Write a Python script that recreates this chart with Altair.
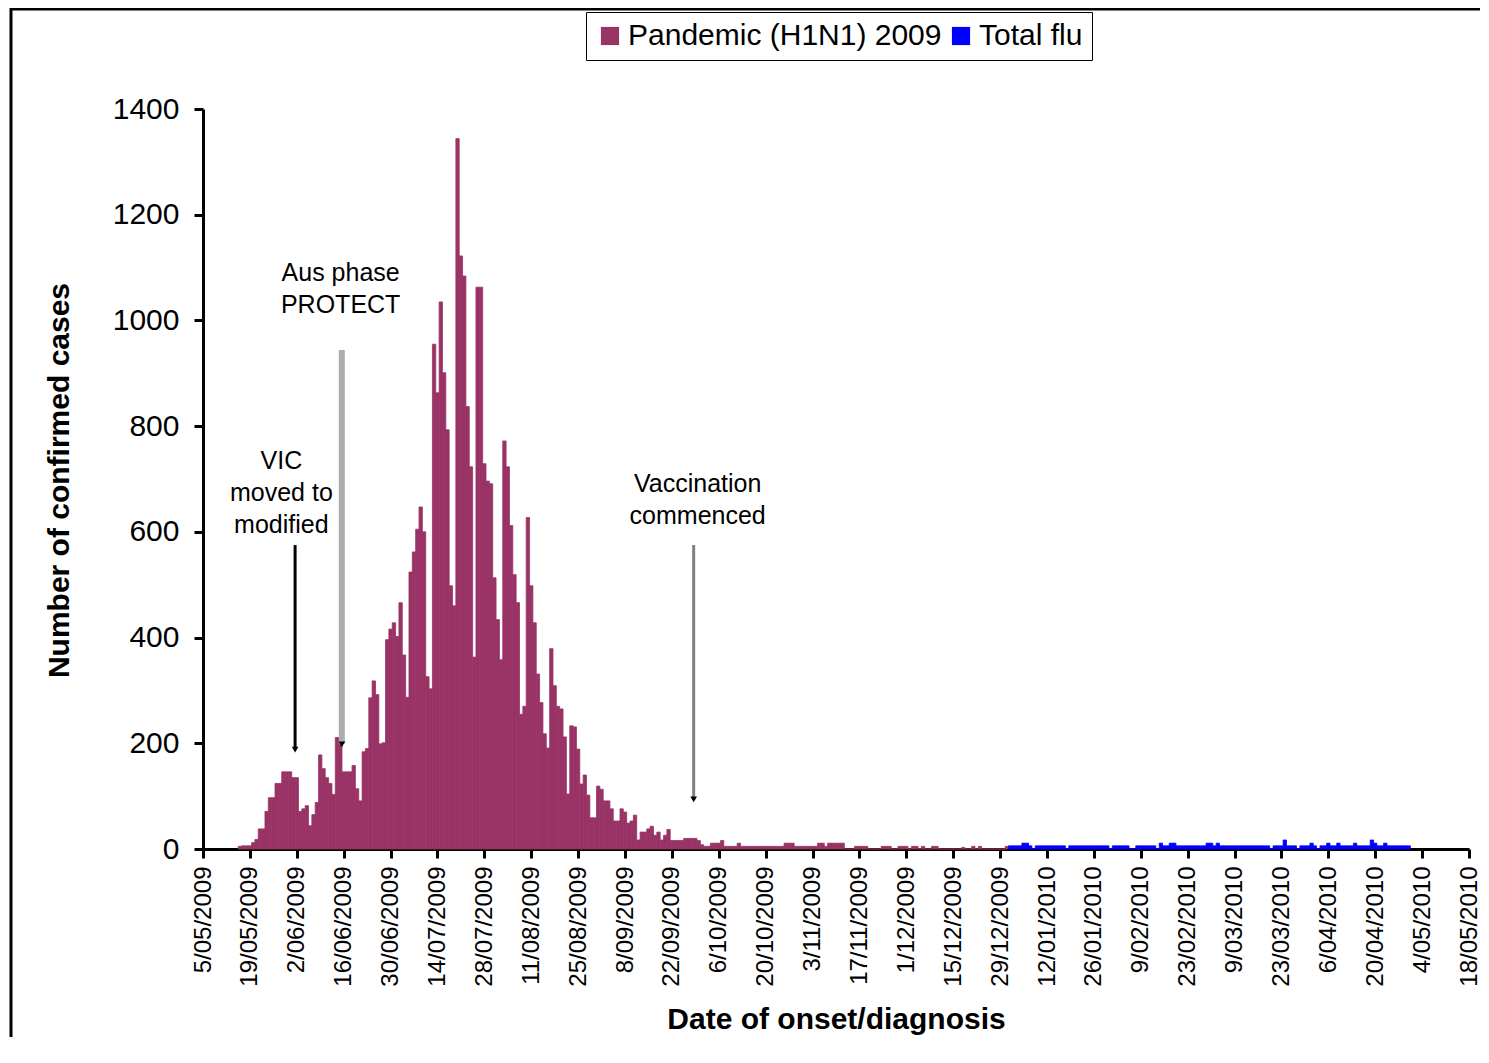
import json
import altair as alt
import pandas as pd

# ---------------- data ----------------
start_date = "2009-05-05"
axis_end_day = 378
tick_step = 14
tick_labels = [
    "5/05/2009", "19/05/2009", "2/06/2009", "16/06/2009", "30/06/2009", "14/07/2009",
    "28/07/2009", "11/08/2009", "25/08/2009", "8/09/2009", "22/09/2009", "6/10/2009",
    "20/10/2009", "3/11/2009", "17/11/2009", "1/12/2009", "15/12/2009", "29/12/2009",
    "12/01/2010", "26/01/2010", "9/02/2010", "23/02/2010", "9/03/2010", "23/03/2010",
    "6/04/2010", "20/04/2010", "4/05/2010", "18/05/2010",
]
series_names = ["Pandemic (H1N1) 2009", "Total flu"]
series_colors = ["#993366", "#0000FF"]

pandemic_first_date = "2009-05-16"
pandemic_counts = [
    5, 6, 6, 6, 12, 18, 38, 38, 71, 97,
    97, 124, 124, 146, 146, 146, 135, 135, 71, 76,
    82, 44, 65, 88, 178, 152, 135, 124, 103, 211,
    211, 146, 146, 146, 158, 114, 91, 184, 190, 286,
    318, 292, 199, 201, 396, 416, 428, 402, 466, 367,
    287, 524, 562, 605, 647, 600, 326, 303, 955, 863,
    1035, 901, 793, 498, 460, 1344, 1122, 1084, 837, 723,
    363, 1063, 1063, 729, 696, 691, 513, 434, 358, 772,
    723, 612, 519, 466, 255, 270, 627, 498, 428, 331,
    277, 218, 191, 379, 309, 270, 265, 212, 104, 233,
    231, 189, 123, 140, 102, 59, 59, 119, 113, 91,
    91, 76, 53, 53, 76, 70, 49, 53, 64, 17,
    32, 32, 38, 43, 26, 32, 17, 26, 37, 16,
    16, 16, 16, 20, 20, 20, 20, 16, 8, 5,
    5, 11, 11, 11, 16, 5, 5, 5, 5, 11,
    5, 5, 5, 5, 5, 5, 5, 5, 5, 5,
    5, 5, 5, 11, 11, 11, 5, 5, 5, 5,
    5, 5, 5, 11, 11, 5, 11, 11, 11, 11,
    11, 0, 0, 0, 5, 5, 5, 5, 0, 0,
    0, 0, 5, 5, 5, 0, 0, 5, 5, 5,
    0, 5, 5, 0, 5, 0, 0, 5, 5, 0,
    0, 0, 0, 0, 0, 0, 3, 0, 0, 5,
    0, 5, 0, 0, 0, 0, 0, 0, 0, 5,
]

flu_first_date = "2010-01-01"
flu_counts = [
    6, 6, 6, 6, 11, 11, 6, 0, 6, 6,
    6, 6, 6, 6, 6, 6, 6, 0, 6, 6,
    6, 6, 6, 6, 6, 6, 6, 6, 6, 6,
    0, 6, 6, 6, 6, 6, 0, 0, 6, 6,
    6, 6, 6, 6, 0, 11, 6, 6, 11, 11,
    6, 6, 6, 6, 6, 6, 6, 6, 6, 11,
    11, 6, 11, 6, 6, 6, 6, 6, 6, 6,
    6, 6, 6, 6, 6, 6, 6, 6, 0, 6,
    6, 6, 17, 6, 6, 6, 0, 6, 6, 6,
    11, 6, 0, 6, 6, 11, 6, 6, 11, 6,
    6, 6, 6, 11, 6, 6, 6, 6, 17, 11,
    6, 6, 11, 6, 6, 6, 6, 6, 6, 6,
]

# annotations (position in data units: day offset, cases)
ann_day = [23.4, 41.1, 147.7]
ann_value = [718, 1075, 675]
ann_text = ["VIC\nmoved to\nmodified", "Aus phase\nPROTECT", "Vaccination\ncommenced"]

arrow_day = [27.5, 41.45, 146.5]
arrow_top = [575, 944, 575]
arrow_tip = [188, 198, 94]
arrow_color = ["#000000", "#ADADAD", "#808080"]
arrow_width = [3, 6, 3]

# ---------------- build tables ----------------
t0 = pd.Timestamp(start_date)
rows = []
p0 = (pd.Timestamp(pandemic_first_date) - t0).days
for i, v in enumerate(pandemic_counts):
    rows.append({"day": p0 + i, "cases": v, "series": series_names[0]})
f0 = (pd.Timestamp(flu_first_date) - t0).days
for i, v in enumerate(flu_counts):
    rows.append({"day": f0 + i, "cases": v, "series": series_names[1]})
df = pd.DataFrame(rows)

ann_df = pd.DataFrame({"day": ann_day, "value": ann_value, "text": ann_text})
arrow_df = pd.DataFrame({
    "day": arrow_day, "top": arrow_top, "tip": arrow_tip,
    "color": arrow_color, "width": arrow_width,
})

FONT = "Liberation Sans"
PLOT_W = 1266
PLOT_H = 740
x_scale = alt.Scale(domain=[0, axis_end_day], nice=False, zero=False)
y_scale = alt.Scale(domain=[0, 1400], nice=False)
color_scale = alt.Scale(domain=series_names, range=series_colors)

label_expr = json.dumps(tick_labels) + "[round(datum.value / %d)]" % tick_step

x_axis = alt.Axis(
    values=list(range(0, axis_end_day + 1, tick_step)),
    labelExpr=label_expr,
    labelAngle=270,
    labelFontSize=24,
    labelFont=FONT,
    labelColor="#000000",
    labelPadding=8,
    labelFlush=False,
    labelOverlap=False,
    tickSize=9,
    tickWidth=3,
    tickColor="#000000",
    domainWidth=3,
    domainColor="#000000",
    grid=False,
    title="Date of onset/diagnosis",
    titleFont=FONT,
    titleFontSize=30,
    titleFontWeight="bold",
    titleColor="#000000",
    titleY=170,
    titleBaseline="middle",
)
y_axis = alt.Axis(
    values=list(range(0, 1401, 200)),
    format="d",
    labelFontSize=30,
    labelFont=FONT,
    labelColor="#000000",
    labelPadding=15,
    labelFlush=False,
    tickSize=9,
    tickWidth=3,
    tickColor="#000000",
    domainWidth=3,
    domainColor="#000000",
    grid=False,
    title="Number of confirmed cases",
    titleFont=FONT,
    titleFontSize=30,
    titleFontWeight="bold",
    titleColor="#000000",
    titleAngle=270,
    titleX=-144,
    titleY=371,
    titleAlign="center",
    titleBaseline="middle",
)

bars = alt.Chart(df).transform_calculate(
    x0="datum.day - 0.5", x1="datum.day + 0.5", base="0"
).mark_bar(strokeWidth=0.8).encode(
    x=alt.X("x0:Q", scale=x_scale, axis=x_axis),
    x2="x1:Q",
    y=alt.Y("cases:Q", scale=y_scale, axis=y_axis),
    y2="base:Q",
    stroke=alt.Stroke("series:N", scale=color_scale, legend=None),
    color=alt.Color(
        "series:N",
        scale=color_scale,
        legend=alt.Legend(
            title=None,
            orient="none",
            legendX=383,
            legendY=-97,
            direction="horizontal",
            symbolType="square",
            symbolSize=330,
            symbolStrokeWidth=0,
            labelFontSize=30,
            labelFont=FONT,
            labelColor="#000000",
            labelLimit=0,
            labelOffset=3,
            columnPadding=4,
            padding=9,
            strokeColor="#000000",
        ),
    ),
)

arrows = alt.Chart(arrow_df).mark_rule().encode(
    x=alt.X("day:Q", scale=x_scale),
    y=alt.Y("top:Q", scale=y_scale),
    y2="tip:Q",
    color=alt.Color("color:N", scale=None),
    strokeWidth=alt.StrokeWidth("width:Q", scale=None),
)
heads = alt.Chart(arrow_df).mark_point(
    shape="triangle-down", filled=True, size=45, color="#000000", opacity=1
).encode(
    x=alt.X("day:Q", scale=x_scale),
    y=alt.Y("tip:Q", scale=y_scale),
)

labels = alt.Chart(ann_df).mark_text(
    lineBreak="\n", fontSize=25, font=FONT, align="center",
    baseline="alphabetic", lineHeight=32, color="#000000",
).encode(
    x=alt.X("day:Q", scale=x_scale),
    y=alt.Y("value:Q", scale=y_scale),
    text="text:N",
)

frame_df = pd.DataFrame({"k": [0]})
frame_top = alt.Chart(frame_df).mark_rule(color="#000000", strokeWidth=3).encode(
    x=alt.value(-193), x2=alt.value(1300), y=alt.value(-100)
)
frame_left = alt.Chart(frame_df).mark_rule(color="#000000", strokeWidth=3).encode(
    x=alt.value(-192), y=alt.value(-101), y2=alt.value(960)
)

chart = alt.layer(bars, arrows, heads, labels, frame_top, frame_left).properties(
    width=PLOT_W,
    height=PLOT_H,
    padding={"left": 195, "top": 101, "right": 11, "bottom": 188},
    autosize=alt.AutoSizeParams(type="none"),
    view=alt.ViewBackground(stroke="transparent", strokeWidth=0),
).configure_view(stroke="transparent", strokeWidth=0).configure_legend(strokeWidth=3).configure(font=FONT)

chart.save("out.html", embed_options={"renderer": "svg", "actions": False})
